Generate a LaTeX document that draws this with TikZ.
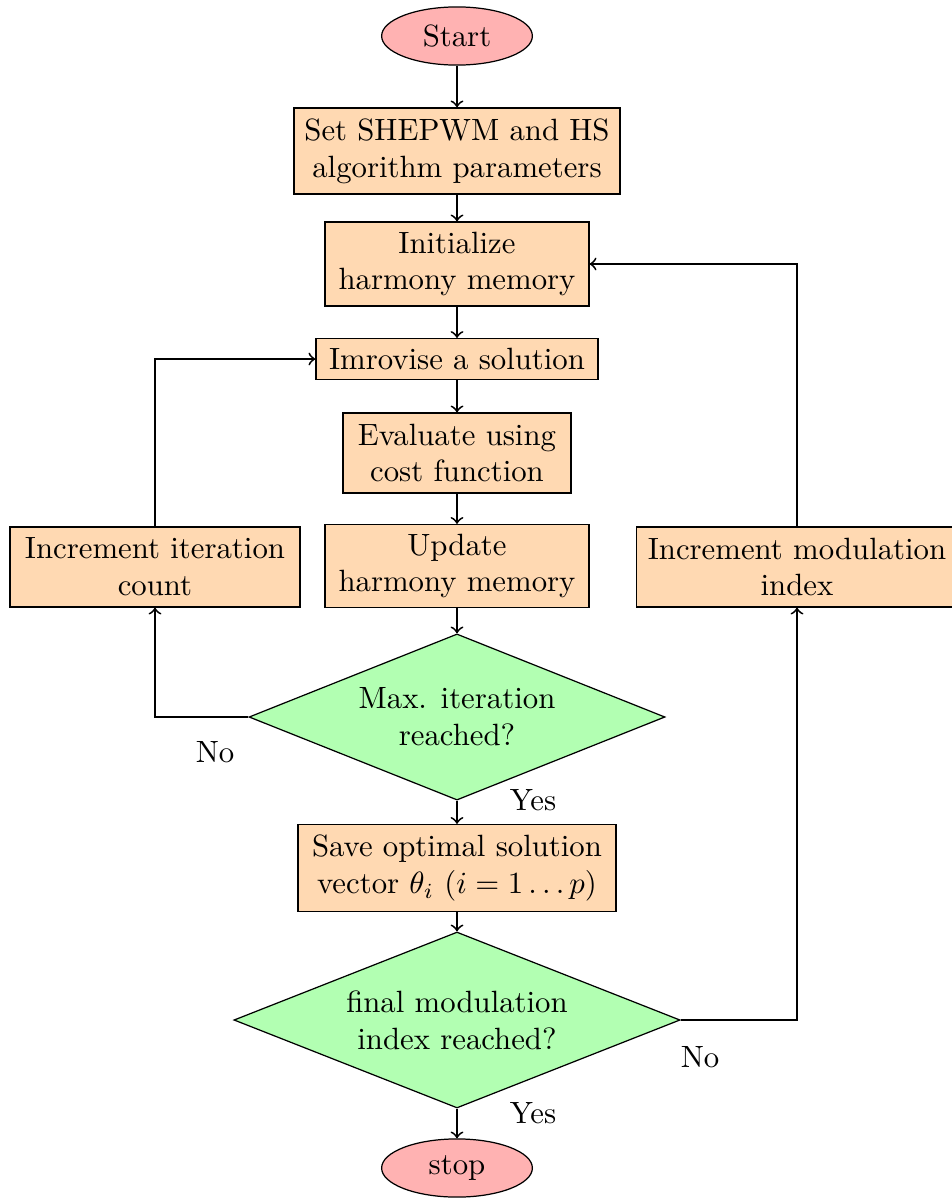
\documentclass[tikz,border=0pt]{standalone}
\usetikzlibrary{shapes.geometric,positioning}
\begin{document}
\begin{tikzpicture}[x=0.325pt,y=-0.325pt,
  terminal/.style={ellipse,draw,thin,fill=red!30,minimum width=49pt,minimum height=18.9pt,inner sep=0pt},
  procbox/.style={rectangle,draw,thin,fill=orange!30,align=center,inner sep=2pt},
  decision/.style={diamond,draw,thin,fill=green!30,align=center,inner sep=0pt,aspect=2.5},
  flow/.style={->,line width=0.6pt},
  lbl/.style={inner sep=0pt}]
\useasboundingbox (0,0) rectangle (952,1200);

% main column
\node[terminal] (start) at (457,36) {Start};
\node[procbox,minimum width=106pt,minimum height=28pt] (setp) at (457,151) {Set SHEPWM and HS\\algorithm parameters};
\node[procbox,minimum width=85.8pt,minimum height=27.3pt] (init) at (457,264) {Initialize\\harmony memory};
\node[procbox,minimum width=91.7pt,minimum height=13.3pt] (impr) at (457,359) {Imrovise a solution};
\node[procbox,minimum width=74.1pt,minimum height=26pt] (eval) at (457,453) {Evaluate using\\cost function};
\node[procbox,minimum width=85.8pt,minimum height=27pt] (upd) at (457,566) {Update\\harmony memory};
\node[decision,minimum width=135.2pt,minimum height=54pt] (maxit) at (457,717) {Max. iteration\\reached?};
\node[procbox,minimum width=103.4pt,minimum height=28.3pt] (save) at (457,868) {Save optimal solution\\vector $\theta_i$ $(i=1\ldots p)$};
\node[decision,minimum width=145pt,minimum height=57.2pt] (final) at (457,1020) {final modulation\\index reached?};
\node[terminal] (stop) at (457,1168) {stop};

% side boxes
\node[procbox,minimum width=94.25pt,minimum height=26pt] (incit) at (155,567) {Increment iteration\\count};
\node[procbox,minimum width=104.3pt,minimum height=26pt] (incmod) at (797,567) {Increment modulation\\index};

% straight connectors
\draw[flow] (start) -- (setp);
\draw[flow] (setp) -- (init);
\draw[flow] (init) -- (impr);
\draw[flow] (impr) -- (eval);
\draw[flow] (eval) -- (upd);
\draw[flow] (upd) -- (maxit);
\draw[flow] (maxit) -- (save);
\draw[flow] (save) -- (final);
\draw[flow] (final) -- (stop);

% iteration loop
\draw[flow] (maxit.west) -| (incit.south);
\draw[flow] (incit.north) |- (impr.west);

% modulation index loop
\draw[flow] (final.east) -| (incmod.south);
\draw[flow] (incmod.north) |- (init.east);

% branch labels
\node[lbl] (yes1) at (533,800) {Yes};
\node[lbl] (no1) at (215,752) {No};
\node[lbl] (yes2) at (533,1113) {Yes};
\node[lbl] (no2) at (700,1057) {No};
\end{tikzpicture}
\end{document}
